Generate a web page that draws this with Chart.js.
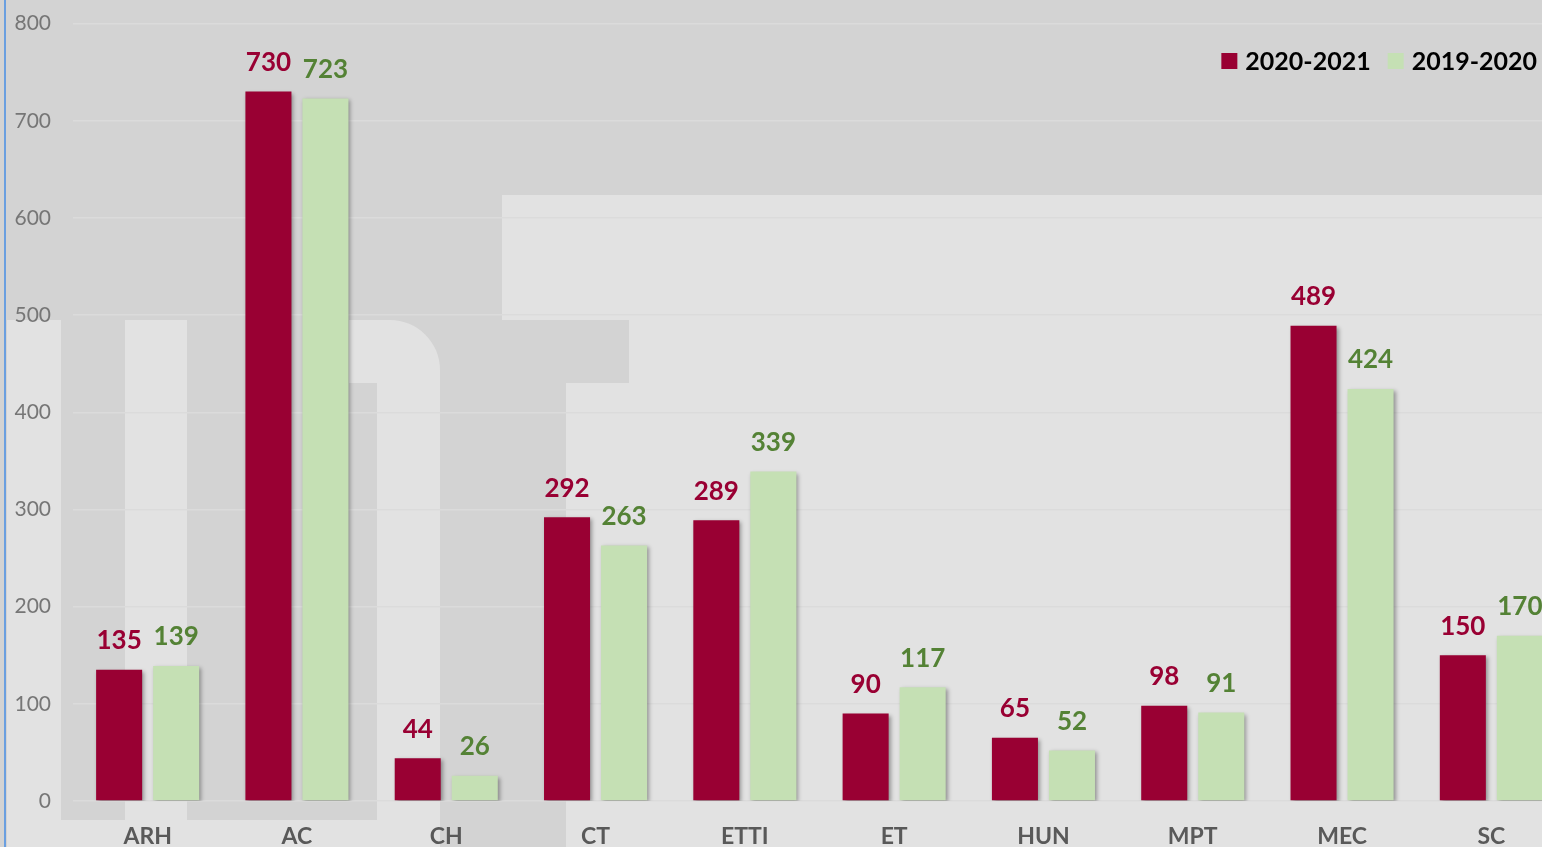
<!DOCTYPE html>
<html>
<head>
<meta charset="utf-8">
<script src="https://cdn.jsdelivr.net/npm/chart.js@4.4.1/dist/chart.umd.min.js"></script>
<style>
  html, body { margin: 0; padding: 0; overflow: hidden; background: #d3d3d3; }
  #wrap { width: 1580px; height: 881px; position: relative; margin-top: -11px; }
</style>
</head>
<body>
<div id="wrap"><canvas id="enrolments"></canvas></div>
<script>
// DATA
const faculties = ["ARH", "AC", "CH", "CT", "ETTI", "ET", "HUN", "MPT", "MEC", "SC"];
const year2021 = [135, 730, 44, 292, 289, 90, 65, 98, 489, 150];
const year2020 = [139, 723, 26, 263, 339, 117, 52, 91, 424, 170];
const seriesNames = ["2020-2021", "2019-2020"];

const RED = "#990033";
const GREEN = "#c5e0b4";
const labelColors = [RED, "#548235"];

Chart.defaults.font.family = "'Lato','sans-serif'";

// faint logo behind the plot (canvas is shifted up 11px)
const watermark = {
  id: "watermark",
  beforeDraw(chart) {
    const ctx = chart.ctx;
    ctx.save();
    ctx.fillStyle = "#d3d3d3";
    ctx.fillRect(0, 0, chart.width, chart.height);
    ctx.translate(0, 11);
    ctx.fillStyle = "#e2e2e2";
    ctx.fillRect(7, 320, 54, 550);
    ctx.fillRect(125, 320, 62, 550);
    ctx.fillRect(61, 820, 378, 50);
    // arch
    ctx.beginPath();
    ctx.moveTo(349, 320);
    ctx.lineTo(389, 320);
    ctx.arcTo(440, 320, 440, 371, 50);
    ctx.lineTo(440, 870);
    ctx.lineTo(377, 870);
    ctx.lineTo(377, 383);
    ctx.lineTo(349, 383);
    ctx.closePath();
    ctx.fill();
    ctx.fillRect(502, 195, 1100, 125);
    ctx.fillRect(629, 320, 1000, 63);
    ctx.fillRect(566, 383, 1050, 490);
    // blue edge line
    ctx.fillStyle = "#6a9fe0";
    ctx.fillRect(4, -11, 2, chart.height);
    ctx.restore();
  },
};

// shadows on bars + value labels
const barValues = {
  id: "barValues",
  beforeDatasetsDraw(chart) {
    const ctx = chart.ctx;
    ctx.save();
    ctx.shadowColor = "rgba(0,0,0,0.35)";
    ctx.shadowBlur = 4;
    ctx.shadowOffsetX = 2;
    ctx.shadowOffsetY = 2;
  },
  afterDatasetsDraw(chart) {
    const ctx = chart.ctx;
    ctx.restore();
    ctx.save();
    ctx.font = "bold 26px Lato";
    ctx.textAlign = "center";
    ctx.textBaseline = "middle";
    chart.data.datasets.forEach((ds, i) => {
      const meta = chart.getDatasetMeta(i);
      ctx.fillStyle = labelColors[i];
      meta.data.forEach((bar, j) => {
        ctx.fillText(ds.data[j], bar.x, bar.y - 29);
      });
    });
    ctx.restore();
  },
};

// legend in the top right corner
const cornerLegend = {
  id: "cornerLegend",
  afterDraw(chart) {
    const ctx = chart.ctx;
    ctx.save();
    ctx.font = "bold 25px Lato";
    ctx.textBaseline = "middle";
    const y = 72;
    let x = 1537;
    const items = chart.data.datasets.slice().reverse();
    items.forEach((ds) => {
      const w = ctx.measureText(ds.label).width;
      x -= w;
      ctx.fillStyle = "#000";
      ctx.fillText(ds.label, x, y + 1);
      x -= 24;
      ctx.fillStyle = ds.backgroundColor;
      ctx.fillRect(x, y - 8, 16, 16);
      x -= 17;
    });
    ctx.restore();
  },
};

let enrolmentsctx = document.getElementById("enrolments").getContext("2d");
new Chart(enrolmentsctx, {
  type: "bar",
  data: {
    labels: faculties,
    datasets: [
      {
        label: seriesNames[0],
        data: year2021,
        backgroundColor: RED,
      },
      {
        label: seriesNames[1],
        data: year2020,
        backgroundColor: GREEN,
      },
    ],
  },
  options: {
    responsive: true,
    maintainAspectRatio: false,
    animation: false,
    categoryPercentage: 0.764,
    barPercentage: 0.807,
    layout: { padding: { left: 7, right: 14, top: 11, bottom: 0 } },
    plugins: {
      legend: { display: false },
      tooltip: { enabled: false },
    },
    scales: {
      x: {
        grid: { display: false },
        border: { display: false },
        ticks: {
          color: "#595959",
          font: { size: 23, weight: "bold" },
          padding: 14,
        },
        afterFit(axis) {
          axis.height = 69;
        },
      },
      y: {
        min: 0,
        max: 800,
        ticks: {
          stepSize: 100,
          color: "#767676",
          font: { size: 21 },
          padding: 22,
        },
        grid: { color: "#dbdbdb", lineWidth: 1.5, drawTicks: false },
        border: { display: false },
        afterFit(axis) {
          axis.width = 66;
        },
      },
    },
  },
  plugins: [watermark, barValues, cornerLegend],
});
</script>
</body>
</html>
